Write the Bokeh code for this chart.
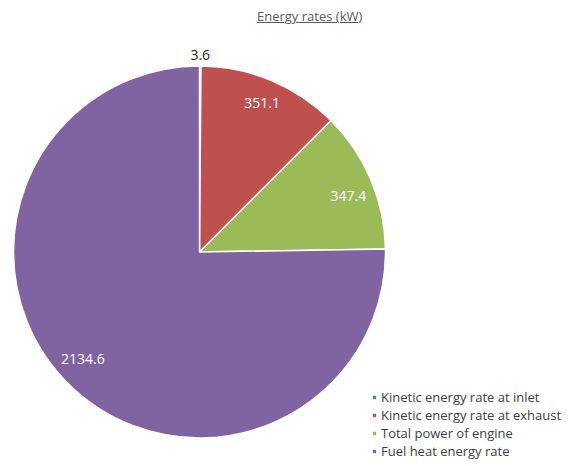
import numpy as np
from bokeh.plotting import figure
from bokeh.models import ColumnDataSource, Legend, LegendItem, Div
from bokeh.layouts import column
from bokeh.embed import file_html
from bokeh.resources import INLINE
from bokeh.core.properties import value

# ---- data ----
title_text = "Energy rates (kW)"
categories = ["Kinetic energy rate at inlet", "Kinetic energy rate at exhaust",
              "Total power of engine", "Fuel heat energy rate"]
values = [3.6, 351.1, 347.4, 2134.6]
labels = ["3.6", "351.1", "347.4", "2134.6"]
colors = ["#4F81BD", "#C0504D", "#9BBB59", "#8064A2"]
label_colors = ["#262626", "white", "white", "white"]

# ---- layout / style ----
W, H_DIV, H = 572, 24, 426
cx, cy, R = 199, 208.5, 186
label_r = [1.06, 0.87, 0.855, 0.85]
label_dang = [0.0, 0.0, 2.3, 3.0]   # degrees clockwise nudge of label position
FONT = "Open Sans"

vals = np.array(values, dtype=float)
frac = vals / vals.sum()
cum = np.concatenate([[0.0], np.cumsum(frac)])
start = np.pi / 2 - cum[:-1] * 2 * np.pi
end = np.pi / 2 - cum[1:] * 2 * np.pi
mid = (start + end) / 2 - np.radians(label_dang)
lr = np.array(label_r) * R
lx = cx + lr * np.cos(mid)
ly = cy + lr * np.sin(mid)

src = ColumnDataSource(dict(cat=categories, val=values, start=start, end=end,
                            color=colors, lx=lx, ly=ly, lab=labels, lcol=label_colors))

p = figure(width=W, height=H, x_range=(0, W), y_range=(0, H),
           output_backend="svg", toolbar_location=None, min_border=0)
p.axis.visible = False
p.grid.visible = False
p.outline_line_color = None

r = p.wedge(x=cx, y=cy, radius=R, radius_units="screen", start_angle="start",
            end_angle="end", direction="clock", fill_color="color",
            line_color="white", line_width=1.5, source=src)

p.text(x="lx", y="ly", text="lab", text_color="lcol", text_align="center",
       text_baseline="middle", text_font=value(FONT), text_font_size="14px", source=src)

items = [LegendItem(label=c, renderers=[r], index=i) for i, c in enumerate(categories)]
legend = Legend(items=items, location=(371, 0), border_line_color=None,
                background_fill_alpha=0, padding=0, margin=0, glyph_width=6,
                glyph_height=6, label_standoff=4, label_text_font=FONT,
                label_text_font_size="13px", label_text_color="#404040",
                spacing=0, label_height=14)
p.add_layout(legend)

div = Div(text=(f'<div style="padding-left:252px;padding-top:2px;'
                f'font-family:\'{FONT}\';font-size:13px;color:#595959;'
                f'text-decoration:underline;white-space:nowrap;">{title_text}</div>'),
          width=W - 10, height=H_DIV)

layout = column(div, p, spacing=0)
open("out.html", "w").write(file_html(layout, INLINE))
